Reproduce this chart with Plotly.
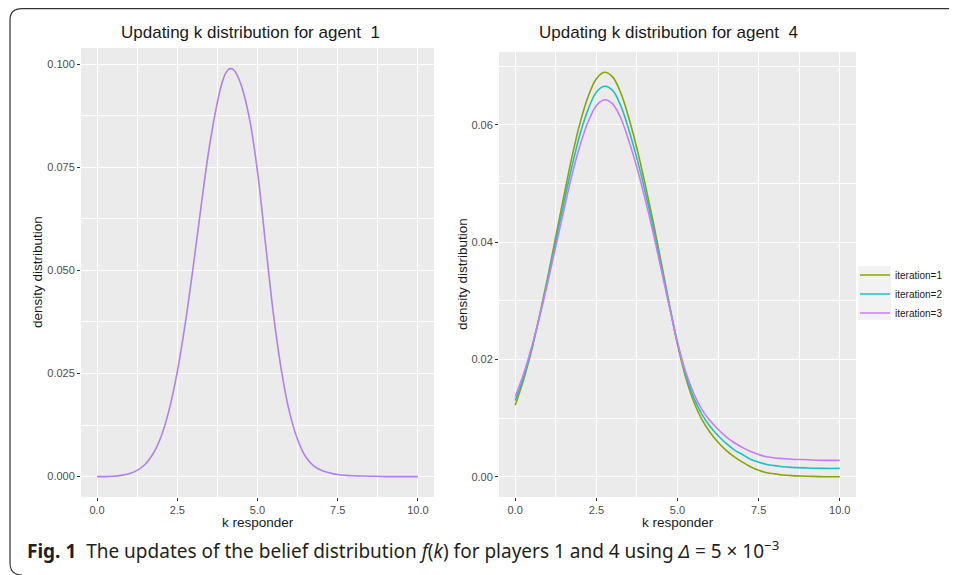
import plotly.graph_objects as go

# page body has an 8px margin, so the figure is drawn 8px in from the top-left
OFF = 8
FW, FH = 957 - OFF, 575 - OFF

# ---------------- data ----------------
k_left = [0.0, 0.25, 0.5, 0.75, 1.0, 1.25, 1.5, 1.75, 2.0, 2.25, 2.5, 2.75, 3.0, 3.25, 3.5,
          3.75, 3.875, 4.0, 4.125, 4.25, 4.375, 4.5, 4.75, 5.0, 5.25, 5.5, 5.75, 6.0, 6.25,
          6.5, 6.75, 7.0, 7.25, 7.5, 7.75, 8.0, 8.5, 9.0, 9.5, 10.0]
dens_agent1 = [0.0000, 0.0000, 0.0001, 0.0003, 0.0007, 0.0015, 0.0030, 0.0056, 0.0098, 0.0163,
               0.0254, 0.0372, 0.0511, 0.0660, 0.0800, 0.0908, 0.0950, 0.0977, 0.0989, 0.0987,
               0.0972, 0.0948, 0.0868, 0.0740, 0.0565, 0.0392, 0.0255, 0.0155, 0.0090, 0.0048,
               0.0026, 0.0015, 0.0009, 0.0005, 0.0003, 0.0002, 0.0001, 0.0000, 0.0000, 0.0000]

k_right = [0.0, 0.25, 0.5, 0.75, 1.0, 1.25, 1.5, 1.75, 2.0, 2.25, 2.5, 2.75, 3.0, 3.25, 3.5,
           3.75, 4.0, 4.25, 4.5, 4.75, 5.0, 5.25, 5.5, 5.75, 6.0, 6.25, 6.5, 6.75, 7.0, 7.25,
           7.5, 7.75, 8.0, 8.25, 8.5, 9.0, 9.5, 10.0]
iter1 = [0.0122, 0.0164, 0.0215, 0.0275, 0.0340, 0.0410, 0.0479, 0.0546, 0.0604, 0.0649,
         0.0679, 0.0690, 0.0682, 0.0655, 0.0612, 0.0560, 0.0500, 0.0435, 0.0365, 0.0294,
         0.0226, 0.0170, 0.0128, 0.0098, 0.0076, 0.0059, 0.0045, 0.0034, 0.0025, 0.0017,
         0.0011, 0.0007, 0.0005, 0.0003, 0.0002, 0.0001, 0.0000, 0.0000]
iter2 = [0.0130, 0.0169, 0.0217, 0.0274, 0.0335, 0.0402, 0.0467, 0.0530, 0.0585, 0.0627,
         0.0656, 0.0666, 0.0659, 0.0633, 0.0592, 0.0543, 0.0487, 0.0425, 0.0359, 0.0292,
         0.0228, 0.0175, 0.0135, 0.0107, 0.0086, 0.0070, 0.0057, 0.0046, 0.0038, 0.0030,
         0.0025, 0.0021, 0.0019, 0.0017, 0.0016, 0.0015, 0.00143, 0.00143]
iter3 = [0.0137, 0.0174, 0.0220, 0.0273, 0.0331, 0.0393, 0.0455, 0.0515, 0.0566, 0.0606,
         0.0633, 0.0643, 0.0636, 0.0612, 0.0573, 0.0527, 0.0474, 0.0416, 0.0353, 0.0290,
         0.0229, 0.0179, 0.0142, 0.0115, 0.0096, 0.0081, 0.0068, 0.0058, 0.0050, 0.0043,
         0.0038, 0.0034, 0.0032, 0.0031, 0.0030, 0.0029, 0.0028, 0.0028]

series_names = ["iteration=1", "iteration=2", "iteration=3"]
series_colors = ["#8AA400", "#1DC0C4", "#C77CFF"]

x_ticks = [0.0, 2.5, 5.0, 7.5, 10.0]
y_ticks_left = [0.0, 0.025, 0.05, 0.075, 0.1]
y_ticks_right = [0.0, 0.02, 0.04, 0.06]

# ---------------- figure ----------------
fig = go.Figure()

fig.add_trace(go.Scatter(x=k_left, y=dens_agent1, mode="lines", xaxis="x", yaxis="y",
                         line=dict(color="#AE82EC", width=1.6, shape="spline", smoothing=1.0),
                         showlegend=False, hoverinfo="skip"))

for name, col, ys in zip(series_names, series_colors, [iter1, iter2, iter3]):
    fig.add_trace(go.Scatter(x=k_right, y=ys, mode="lines", name=name, xaxis="x2", yaxis="y2",
                             line=dict(color=col, width=1.6, shape="spline", smoothing=1.0)))


def px_x(p):
    return (p - OFF) / FW


def px_y(p):
    return 1 - (p - OFF) / FH


FONT = "Liberation Sans, Arial, sans-serif"
tickfont = dict(family=FONT, size=11, color="#4D4D4D")
grid_common = dict(showgrid=True, gridcolor="white", gridwidth=1.3, zeroline=False,
                   showline=False, ticks="outside", ticklen=3, tickwidth=1, tickcolor="#333333",
                   tickfont=tickfont, fixedrange=True)
minor_x = dict(showgrid=True, gridcolor="white", gridwidth=0.6, tickvals=[1.25, 3.75, 6.25, 8.75])

xrange = [-0.5, 10.5]
fig.update_layout(
    width=FW, height=FH,
    margin=dict(l=0, r=0, t=0, b=0),
    paper_bgcolor="white",
    plot_bgcolor="#EBEBEB",
    showlegend=True,
    xaxis=dict(domain=[px_x(81), px_x(434)], anchor="y", range=xrange, tickvals=x_ticks,
               tickformat=".1f", minor=minor_x, **grid_common),
    yaxis=dict(domain=[px_y(497), px_y(48)], anchor="x", range=[-0.00495, 0.10395],
               tickvals=y_ticks_left, tickformat=".3f",
               minor=dict(showgrid=True, gridcolor="white", gridwidth=0.6,
                          tickvals=[0.0125, 0.0375, 0.0625, 0.0875]), **grid_common),
    xaxis2=dict(domain=[px_x(499), px_x(856)], anchor="y2", range=xrange, tickvals=x_ticks,
                tickformat=".1f", minor=minor_x, **grid_common),
    yaxis2=dict(domain=[px_y(497), px_y(52)], anchor="x2", range=[-0.00345, 0.07245],
                tickvals=y_ticks_right, tickformat=".2f",
                minor=dict(showgrid=True, gridcolor="white", gridwidth=0.6,
                           tickvals=[0.01, 0.03, 0.05, 0.07]), **grid_common),
    legend=dict(x=px_x(855), y=px_y(294), xanchor="left", yanchor="middle",
                font=dict(family=FONT, size=10, color="#1A1A1A"),
                bgcolor="rgba(0,0,0,0)", itemwidth=30, tracegroupgap=0),
)

title_font = dict(family=FONT, size=17, color="#1A1A1A")
axis_font = dict(family=FONT, size=13.5, color="#1A1A1A")

annotations = [
    dict(text="Updating k distribution for agent  1", x=px_x(251), y=px_y(32), font=title_font),
    dict(text="Updating k distribution for agent  4", x=px_x(668), y=px_y(32), font=title_font),
    dict(text="k responder", x=px_x(258), y=px_y(522), font=axis_font),
    dict(text="k responder", x=px_x(678), y=px_y(522), font=axis_font),
    dict(text="density distribution", x=px_x(37), y=px_y(272), font=axis_font, textangle=-90),
    dict(text="density distribution", x=px_x(462), y=px_y(274), font=axis_font, textangle=-90),
    dict(text="<b>Fig. 1</b>  The updates of the belief distribution <i>f</i>(<i>k</i>) for players 1 and 4 using "
              "<i>Δ</i> = 5 × 10<sup>−3</sup>",
         x=px_x(25), y=px_y(550), xanchor="left",
         font=dict(family="Noto Sans, Open Sans, sans-serif", size=19, color="#231F20")),
]
for a in annotations:
    a.setdefault("xanchor", "center")
    a.update(xref="paper", yref="paper", yanchor="middle", showarrow=False)
fig.update_layout(annotations=annotations)

# legend key background
fig.add_shape(type="rect", xref="paper", yref="paper", x0=px_x(858), x1=px_x(891),
              y0=px_y(320), y1=px_y(266), fillcolor="#F2F2F2", line=dict(width=0), layer="below")

# rounded frame (top and left edges)
path = (f"M {px_x(957)},{px_y(8.6)} L {px_x(22)},{px_y(8.6)} "
        f"Q {px_x(10)},{px_y(8.6)} {px_x(10)},{px_y(20)} L {px_x(10)},{px_y(563)} "
        f"Q {px_x(10)},{px_y(575)} {px_x(22)},{px_y(575)}")
fig.add_shape(type="path", path=path, xref="paper", yref="paper",
              line=dict(color="#333333", width=1.2))

fig.write_html("out.html")
